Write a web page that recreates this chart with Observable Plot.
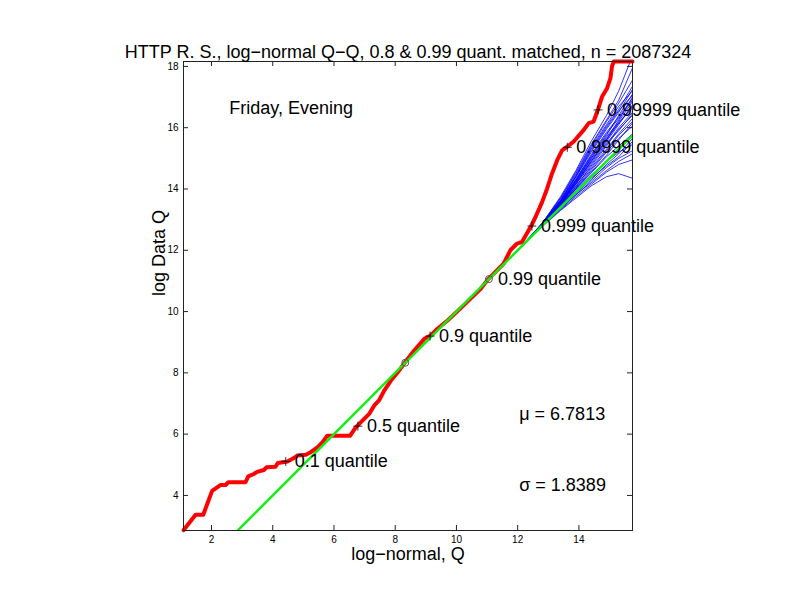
<!DOCTYPE html>
<html>
<head>
<meta charset="utf-8">
<script src="https://cdn.jsdelivr.net/npm/d3@7"></script>
<script src="https://cdn.jsdelivr.net/npm/@observablehq/plot@0.6"></script>
<style>
  html, body { margin: 0; padding: 0; background: white; }
  svg { display: block; }
</style>
</head>
<body>
<div id="chart"></div>
<script>
// ---- data ----
const titleText = "HTTP R. S., log\u2212normal Q\u2212Q, 0.8 & 0.99 quant. matched, n = 2087324";
const xLabel = "log\u2212normal, Q";
const yLabel = "log Data Q";
const panelLabel = "Friday, Evening";
const muText = "\u03bc = 6.7813";
const sigmaText = "\u03c3 = 1.8389";

const xTicks = [2, 4, 6, 8, 10, 12, 14];
const yTicks = [4, 6, 8, 10, 12, 14, 16, 18];

// empirical Q-Q curve (red)
const redX = [1.09, 1.48, 1.73, 1.86, 2.02, 2.29, 2.46, 2.55, 3.11, 3.20, 3.38, 3.49, 3.71, 3.80, 4.09, 4.17, 4.48, 4.69, 4.80, 5.08, 5.24, 5.46, 5.62, 5.78, 6.53, 6.71, 6.93, 7.15, 7.31, 7.47, 7.64, 7.86, 8.13, 8.31, 8.62, 8.95, 9.16, 9.38, 9.71, 10.15, 10.80, 11.03, 11.54, 11.76, 11.98, 12.14, 12.36, 12.47, 12.58, 12.80, 12.96, 13.12, 13.29, 13.45, 13.62, 13.83, 14.16, 14.32, 14.48, 14.62, 14.76, 14.92, 15.03, 15.08, 15.14, 15.75];
const redY = [2.87, 3.37, 3.37, 3.72, 4.15, 4.34, 4.34, 4.43, 4.43, 4.62, 4.70, 4.77, 4.83, 4.92, 4.94, 5.06, 5.11, 5.22, 5.30, 5.33, 5.41, 5.57, 5.73, 5.95, 5.95, 6.22, 6.44, 6.66, 6.93, 7.10, 7.42, 7.75, 8.08, 8.33, 8.73, 9.11, 9.22, 9.44, 9.71, 10.12, 10.75, 11.05, 11.56, 12.00, 12.22, 12.27, 12.65, 12.85, 13.08, 13.58, 14.01, 14.50, 14.94, 15.26, 15.38, 15.55, 15.93, 16.15, 16.20, 16.58, 17.02, 17.29, 17.62, 18.00, 18.16, 18.16];

// fitted log-normal line (green)
const fitX = [1.09, 15.75];
const fitY = [1.09, 15.75];

// simulated log-normal samples (blue envelope)
const simX = [12.0, 12.8, 13.4, 13.9, 14.4, 14.9, 15.3, 15.75];
const simY = [
  [12.0, 12.85, 13.55, 14.25, 15.00, 15.70, 16.20, 16.85],
  [12.0, 12.88, 13.70, 14.50, 15.40, 16.20, 16.80, 17.55],
  [12.0, 12.82, 13.45, 14.00, 14.55, 15.10, 15.60, 16.15],
  [12.0, 12.78, 13.32, 13.75, 14.15, 14.55, 14.80, 14.95],
  [12.0, 12.86, 13.62, 14.40, 15.25, 16.00, 16.55, 17.05],
  [12.0, 12.83, 13.50, 14.15, 14.80, 15.45, 16.00, 16.50],
  [12.0, 12.88, 13.75, 14.60, 15.55, 16.40, 17.20, 18.35],
  [12.0, 12.80, 13.35, 13.80, 14.25, 14.70, 15.00, 15.25],
  [12.0, 12.84, 13.52, 14.18, 14.90, 15.55, 16.10, 16.75],
  [12.0, 12.85, 13.60, 14.32, 15.12, 15.85, 16.35, 16.95],
  [12.0, 12.81, 13.43, 13.95, 14.45, 14.90, 15.20, 15.45],
  [12.0, 12.82, 13.48, 14.10, 14.70, 15.30, 15.80, 16.30],
  [12.0, 12.84, 13.55, 14.22, 14.95, 15.60, 16.25, 17.00],
  [12.0, 12.77, 13.30, 13.70, 14.10, 14.40, 14.50, 14.35],
  [12.0, 12.83, 13.50, 14.16, 14.85, 15.50, 15.90, 16.45],
  [12.0, 12.86, 13.60, 14.38, 15.20, 15.95, 16.50, 17.25],
  [12.0, 12.82, 13.46, 14.02, 14.60, 15.20, 15.65, 16.05],
  [12.0, 12.81, 13.40, 13.85, 14.30, 14.80, 15.15, 15.65],
  [12.0, 12.87, 13.65, 14.45, 15.35, 16.10, 16.70, 17.20],
  [12.0, 12.84, 13.52, 14.20, 14.90, 15.60, 16.15, 16.65],
  [12.0, 12.88, 13.70, 14.55, 15.45, 16.25, 16.90, 17.95],
  [12.0, 12.82, 13.44, 14.00, 14.52, 15.05, 15.40, 15.80],
  [12.0, 12.85, 13.58, 14.30, 15.08, 15.80, 16.30, 16.90],
  [12.0, 12.83, 13.49, 14.08, 14.75, 15.40, 15.95, 16.40],
  [12.0, 12.79, 13.36, 13.82, 14.20, 14.60, 14.90, 15.15],
  [12.0, 12.85, 13.57, 14.28, 15.05, 15.75, 16.40, 17.10],
  [12.0, 12.86, 13.62, 14.42, 15.30, 16.05, 16.60, 17.35],
  [12.0, 12.82, 13.47, 14.05, 14.65, 15.25, 15.75, 16.20],
  [12.0, 12.84, 13.54, 14.26, 15.00, 15.65, 16.15, 16.70],
  [12.0, 12.81, 13.42, 13.90, 14.35, 14.75, 15.05, 15.55]
];

// quantile markers
const quantLabels = ["0.1", "0.5", "0.9", "0.99", "0.999", "0.9999", "0.99999"];
const quantX = [4.425, 6.781, 9.138, 11.059, 12.464, 13.62, 14.624];
const quantY = [5.11, 6.26, 9.20, 11.06, 12.79, 15.36, 16.58];

// matched quantiles (0.8 and 0.99)
const matchX = [8.329, 11.059];
const matchY = [8.33, 11.06];

// ---- build tables ----
const red = redX.map((x, i) => ({x, y: redY[i]}));
const fit = fitX.map((x, i) => ({x, y: fitY[i]}));
const sims = simY.flatMap((ys, k) => ys.map((y, i) => ({x: simX[i], y, k})));
const quants = quantLabels.map((p, i) => ({p, x: quantX[i], y: quantY[i]}));
const matched = matchX.map((x, i) => ({x, y: matchY[i]}));
const plusQuants = quants.filter(d => d.p !== "0.99");

const W = 792, H = 612;
const mL = 183, mR = 160, mT = 61, mB = 82;
const fw = W - mL - mR, fh = H - mT - mB;
const font = "Liberation Sans, Arial, Helvetica, sans-serif";

const chart = Plot.plot({
  width: W,
  height: H,
  marginLeft: mL,
  marginRight: mR,
  marginTop: mT,
  marginBottom: mB,
  style: {fontFamily: font, fontSize: "10px", background: "white", color: "black"},
  x: {domain: [1.085, 15.75], ticks: xTicks, tickSize: 0, tickPadding: 5, label: null},
  y: {domain: [2.856, 18.16], ticks: yTicks, tickSize: 0, tickPadding: 5, label: null},
  marks: [
    // inward ticks on all four sides
    Plot.tickX(xTicks, {x: d => d, insetTop: fh - 5, stroke: "#222"}),
    Plot.tickX(xTicks, {x: d => d, insetBottom: fh - 5, stroke: "#222"}),
    Plot.tickY(yTicks, {y: d => d, insetRight: fw - 5, stroke: "#222"}),
    Plot.tickY(yTicks, {y: d => d, insetLeft: fw - 5, stroke: "#222"}),
    // simulated envelope
    Plot.line(sims, {x: "x", y: "y", z: "k", stroke: "#0000ff", strokeWidth: 0.8, clip: true}),
    // empirical curve
    Plot.line(red, {x: "x", y: "y", stroke: "#ff0000", strokeWidth: 4, strokeLinejoin: "round"}),
    // fit line
    Plot.line(fit, {x: "x", y: "y", stroke: "#11ee11", strokeWidth: 2.5, clip: true}),
    // matched points
    Plot.dot(matched, {x: "x", y: "y", r: 3.5, stroke: "#555", strokeWidth: 1, fill: "none"}),
    // quantile plus markers
    Plot.dot(plusQuants, {x: "x", y: "y", symbol: "plus", r: 3, stroke: "black", strokeWidth: 0.8}),
    Plot.text(quants, {x: "x", y: "y", text: d => `${d.p} quantile`, textAnchor: "start", dx: 9, fontSize: 18, fill: "black"}),
    // annotations
    Plot.text([panelLabel], {x: 2.58, y: 16.64, text: d => d, textAnchor: "start", fontSize: 18, fill: "black"}),
    Plot.text([muText], {x: 12.05, y: 6.64, text: d => d, textAnchor: "start", fontSize: 18, fill: "black"}),
    Plot.text([sigmaText], {x: 12.05, y: 4.32, text: d => d, textAnchor: "start", fontSize: 18, fill: "black"}),
    // frame
    Plot.frame({stroke: "#222"}),
    // title and axis labels
    Plot.text([titleText], {frameAnchor: "top", dy: -16, text: d => d, fontSize: 18, fill: "black"}),
    Plot.text([xLabel], {frameAnchor: "bottom", dy: 29, text: d => d, fontSize: 18, fill: "black"}),
    Plot.text([yLabel], {frameAnchor: "left", dx: -24, rotate: -90, text: d => d, fontSize: 18, fill: "black"})
  ]
});

document.getElementById("chart").appendChild(chart);
</script>
</body>
</html>
